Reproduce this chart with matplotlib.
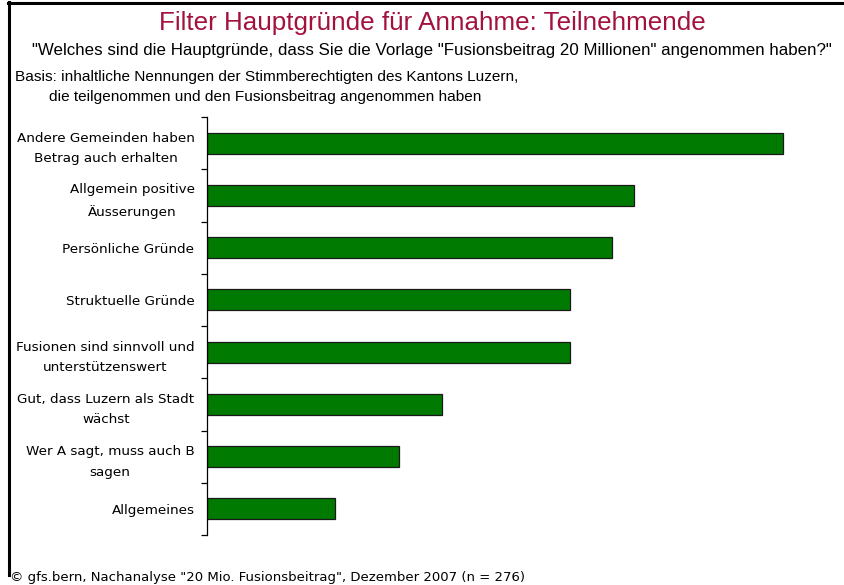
import numpy as np
import matplotlib
matplotlib.use("Agg")
import matplotlib.pyplot as plt
from matplotlib.lines import Line2D

# ─── DATA ─────────────────────────────────────────────────────────────────────
categories = [
    "Andere Gemeinden haben\nBetrag auch erhalten",
    "Allgemein positive\nÄusserungen",
    "Persönliche Gründe",
    "Struktuelle Gründe",
    "Fusionen sind sinnvoll und\nunterstützenswert",
    "Gut, dass Luzern als Stadt\nwächst",
    "Wer A sagt, muss auch B\nsagen",
    "Allgemeines",
]
values = [27, 20, 19, 17, 17, 11, 9, 6]

TITLE = "Filter Hauptgründe für Annahme: Teilnehmende"
SUBTITLE = '"Welches sind die Hauptgründe, dass Sie die Vorlage "Fusionsbeitrag 20 Millionen" angenommen haben?"'
BASIS_1 = "Basis: inhaltliche Nennungen der Stimmberechtigten des Kantons Luzern,"
BASIS_2 = "die teilgenommen und den Fusionsbeitrag angenommen haben"
FOOTER = '© gfs.bern, Nachanalyse "20 Mio. Fusionsbeitrag", Dezember 2007 (n = 276)'

NARROW = ["Liberation Sans", "DejaVu Sans"]
LABEL_FONT = ["DejaVu Sans"]

# ─── FIGURE ───────────────────────────────────────────────────────────────────
fig = plt.figure(figsize=(8.44, 5.85), dpi=100, facecolor="white")
ax = fig.add_axes([207 / 844, 1 - 535 / 585, (820 - 207) / 844, (535 - 117) / 585])

y = np.arange(len(categories))
ax.barh(y, values, height=0.4, color="#007A00", edgecolor="#1a1a1a", linewidth=0.9)

ax.set_xlim(0, 27 * (820 - 207) / 576)
ax.set_ylim(len(categories) - 0.5, -0.5)
ax.set_xticks([])
ax.set_yticks(y)
ax.set_yticklabels(categories, fontsize=9.7, family=LABEL_FONT,
                   multialignment="center", linespacing=1.75)
ax.tick_params(axis="y", which="major", length=0, pad=9)
ax.set_yticks(np.arange(-0.5, len(categories)), minor=True)
ax.tick_params(axis="y", which="minor", length=4, width=0.9, direction="out")
for s in ["top", "right", "bottom"]:
    ax.spines[s].set_visible(False)
ax.spines["left"].set_linewidth(0.9)

# frame lines (left and top only)
fig.add_artist(Line2D([9 / 844, 9 / 844], [1 - 575 / 585, 1 - 2 / 585],
                      transform=fig.transFigure, color="black", lw=2.2))
fig.add_artist(Line2D([8 / 844, 1.0], [1 - 3 / 585, 1 - 3 / 585],
                      transform=fig.transFigure, color="black", lw=2.2))

fig.text(432 / 844, 1 - 23 / 585, TITLE, ha="center", va="center", fontsize=18.7,
         color="#A3123F", family=NARROW)
fig.text(432 / 844, 1 - 50 / 585, SUBTITLE, ha="center", va="center", fontsize=12.2,
         color="black", family=NARROW)
fig.text(15 / 844, 1 - 77 / 585, BASIS_1, ha="left", va="center", fontsize=11.1,
         color="black", family=NARROW)
fig.text(49 / 844, 1 - 97 / 585, BASIS_2, ha="left", va="center", fontsize=11.1,
         color="black", family=NARROW)
fig.text(10 / 844, 1 - 577 / 585, FOOTER, ha="left", va="center", fontsize=9.5,
         color="black", family=LABEL_FONT)

plt.savefig("out.png", dpi=100, facecolor="white")
plt.close()
